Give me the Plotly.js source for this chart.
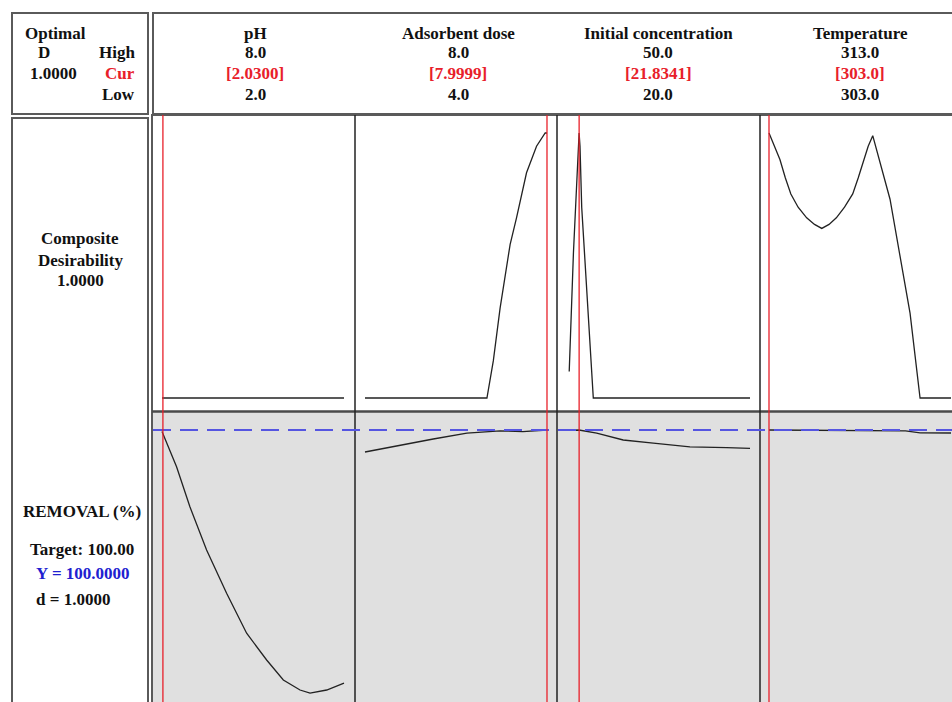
<!DOCTYPE html>
<html><head><meta charset="utf-8">
<script src="https://cdn.plot.ly/plotly-3.0.1.min.js"></script>
<style>html,body{margin:0;padding:0;background:#fff}#chart{width:952px;height:702px}</style>
</head><body><div id="chart"></div>
<script>
// ---------- data ----------
const factors = ['pH', 'Adsorbent dose', 'Initial concentration', 'Temperature'];
const highs = [8.0, 8.0, 50.0, 313.0];
const lows = [2.0, 4.0, 20.0, 303.0];
const currents = [2.0300, 7.9999, 21.8341, 303.0];
const currentLabels = ['[2.0300]', '[7.9999]', '[21.8341]', '[303.0]'];

const optimalD = '1.0000';
const compositeD = '1.0000';
const responseName = 'REMOVAL (%)';
const targetValue = 100.00;
const predictedY = '100.0000';
const responseD = '1.0000';

// composite desirability vs each factor
const phX = [2.0, 8.0];
const phD = [0, 0];
const doseX = [4.0, 6.68, 6.82, 6.97, 7.19, 7.33, 7.55, 7.77, 7.96, 8.0];
const doseD = [0, 0, 0.14, 0.34, 0.58, 0.68, 0.85, 0.95, 1.0, 1.0];
const concX = [20.2, 20.9, 21.83, 21.98, 22.26, 23.1, 24.17, 50.0];
const concD = [0.10, 0.55, 1.0, 0.95, 0.72, 0.42, 0.0, 0.0];
const tempX = [303.0, 303.3, 303.6, 303.9, 304.2, 304.6, 305.07, 305.5, 305.9, 306.3, 306.7, 307.15, 307.6, 307.9, 308.2, 308.45, 308.7, 309.65, 310.75, 311.3, 313.0];
const tempD = [1.0, 0.95, 0.9, 0.83, 0.77, 0.72, 0.68, 0.655, 0.64, 0.655, 0.68, 0.72, 0.77, 0.83, 0.9, 0.95, 0.99, 0.75, 0.32, 0.0, 0.0];

// predicted REMOVAL (%) vs each factor
const phRemX = [2.0, 2.48, 2.92, 3.47, 4.13, 4.79, 5.45, 6.0, 6.55, 6.88, 7.43, 8.0];
const phRem = [99.6, 90.8, 80.8, 70.0, 59.2, 49.2, 42.5, 37.5, 35.0, 34.2, 35.0, 36.7];
const doseRemX = [4.0, 4.77, 5.5, 6.24, 6.97, 7.47, 8.0];
const doseRem = [94.5, 96.25, 97.75, 99.2, 99.8, 99.6, 100.0];
const concRemX = [20.0, 21.8, 24.73, 29.1, 34.06, 40.1, 46.16, 50.0];
const concRem = [99.9, 100.0, 99.2, 97.5, 96.7, 95.8, 95.6, 95.4];
const tempRemX = [303.0, 308.5, 309.5, 310.5, 311.3, 313.0];
const tempRem = [100.0, 99.9, 99.7, 99.8, 99.3, 99.25];

// ---------- layout helpers ----------
const W = 952, H = 702;
const X = px => px / W;
const Y = py => 1 - py / H;
const FONT = 'Liberation Serif, Times New Roman, serif';
const FS = 17;

const panelL = [153, 355, 557, 760];
const panelR = [355, 557, 760, 952];
const xRanges = [[1.7033, 8.3626], [3.7802, 8.2198], [18.187, 51.648], [302.5055, 313.055]];
const headerX = [255, 458, 658, 860];

const curveLine = {color: '#222', width: 1.3};
const traces = [];
const desX = [phX, doseX, concX, tempX], desY = [phD, doseD, concD, tempD];
const remX = [phRemX, doseRemX, concRemX, tempRemX], remY = [phRem, doseRem, concRem, tempRem];
for (let i = 0; i < 4; i++) {
  const xa = i === 0 ? 'x' : 'x' + (i + 1);
  traces.push({x: desX[i], y: desY[i], xaxis: xa, yaxis: 'y', type: 'scatter', mode: 'lines',
    line: curveLine, hoverinfo: 'skip', showlegend: false});
  traces.push({x: remX[i], y: remY[i], xaxis: xa, yaxis: 'y2', type: 'scatter', mode: 'lines',
    line: curveLine, hoverinfo: 'skip', showlegend: false});
}

const layout = {
  width: W, height: H, margin: {l: 0, r: 0, t: 0, b: 0},
  paper_bgcolor: '#ffffff', plot_bgcolor: 'rgba(0,0,0,0)', showlegend: false,
  yaxis: {domain: [Y(411), Y(114)], range: [-0.04906, 1.0717], visible: false, fixedrange: true},
  yaxis2: {domain: [0, Y(412)], range: [32, 104.5], visible: false, fixedrange: true},
  shapes: [], annotations: []
};
for (let i = 0; i < 4; i++) {
  const key = i === 0 ? 'xaxis' : 'xaxis' + (i + 1);
  layout[key] = {domain: [X(panelL[i]), X(panelR[i])], range: xRanges[i], visible: false, fixedrange: true, anchor: 'y'};
}

const S = layout.shapes;
const frame = {color: '#5a5a5a', width: 2};
// grey background of response row
S.push({type: 'rect', xref: 'paper', yref: 'paper', x0: X(153), x1: X(970), y0: Y(730), y1: Y(412),
  fillcolor: '#e0e0e0', line: {width: 0}, layer: 'below'});
// boxes
S.push({type: 'rect', xref: 'paper', yref: 'paper', x0: X(12), x1: X(148), y0: Y(114), y1: Y(13), line: frame});
S.push({type: 'rect', xref: 'paper', yref: 'paper', x0: X(153), x1: X(975), y0: Y(114), y1: Y(13), line: frame});
S.push({type: 'rect', xref: 'paper', yref: 'paper', x0: X(12), x1: X(148), y0: Y(730), y1: Y(118), line: frame});
S.push({type: 'rect', xref: 'paper', yref: 'paper', x0: X(152), x1: X(975), y0: Y(730), y1: Y(115), line: frame});
// row separator
S.push({type: 'line', xref: 'paper', yref: 'paper', x0: X(152), x1: X(975), y0: Y(411.5), y1: Y(411.5),
  line: {color: '#4a4a4a', width: 2.5}});
// panel separators
for (let i = 1; i < 4; i++) {
  S.push({type: 'line', xref: 'paper', yref: 'paper', x0: X(panelL[i]), x1: X(panelL[i]), y0: 0, y1: Y(115),
    line: {color: '#222', width: 1.5}});
}
// target line
S.push({type: 'line', xref: 'paper', yref: 'y2', x0: X(153), x1: 1, y0: targetValue, y1: targetValue,
  line: {color: 'rgb(85,85,225)', width: 2, dash: '18px,9px'}});
// current-setting lines
for (let i = 0; i < 4; i++) {
  const xa = i === 0 ? 'x' : 'x' + (i + 1);
  S.push({type: 'line', xref: xa, yref: 'paper', x0: currents[i], x1: currents[i], y0: 0, y1: Y(115),
    line: {color: '#e8202a', width: 1.3}});
}

const A = layout.annotations;
function txt(text, x, y, color, anchor) {
  A.push({text: '<b>' + text + '</b>', xref: 'paper', yref: 'paper', x: X(x), y: Y(y),
    xanchor: anchor || 'center', yanchor: 'middle', showarrow: false,
    font: {family: FONT, size: FS, color: color || '#111'}});
}
// left header
txt('Optimal', 55, 33);
txt('D', 44, 52);
txt(optimalD, 53, 73);
txt('High', 137, 52, '#111', 'right');
txt('Cur', 137, 73, '#e8202a', 'right');
txt('Low', 137, 94, '#111', 'right');
// factor headers
for (let i = 0; i < 4; i++) {
  txt(factors[i], headerX[i], 33);
  txt(highs[i].toFixed(1), headerX[i], 52);
  txt(currentLabels[i], headerX[i], 73, '#e8202a');
  txt(lows[i].toFixed(1), headerX[i], 94);
}
// row labels
txt('Composite', 80, 239);
txt('Desirability', 80, 260);
txt(compositeD, 80, 280);
txt(responseName, 21, 511, '#111', 'left');
txt('Target: ' + targetValue.toFixed(2), 28, 549, '#111', 'left');
txt('Y = ' + predictedY, 34, 573, '#2020d0', 'left');
txt('d = ' + responseD, 34, 599, '#111', 'left');

Plotly.newPlot('chart', traces, layout, {staticPlot: true, displayModeBar: false});
</script>
</body></html>
